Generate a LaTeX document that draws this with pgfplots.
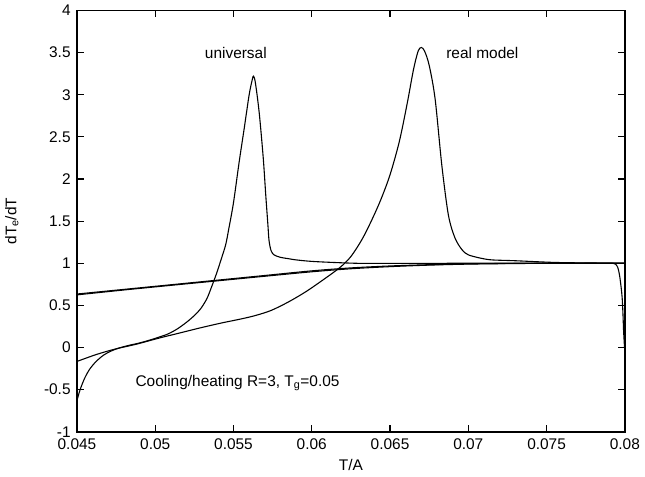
\documentclass[border=0pt]{standalone}
\usepackage{fontspec}
\setmainfont{Liberation Sans}
\usepackage{pgfplots}
\pgfplotsset{compat=1.18}

\begin{document}
\fontsize{15.5}{18}\selectfont
\begin{tikzpicture}
\begin{axis}[
  scale only axis, width=550pt, height=423pt,
  xmin=0.045, xmax=0.08, ymin=-1, ymax=4,
  xtick={0.045,0.05,0.055,0.06,0.065,0.07,0.075,0.08},
  xticklabels={0.045,0.05,0.055,0.06,0.065,0.07,0.075,0.08},
  ytick={-1,-0.5,0,0.5,1,1.5,2,2.5,3,3.5,4},
  yticklabels={-1,-0.5,0,0.5,1,1.5,2,2.5,3,3.5,4},
  scaled x ticks=false,
  tick align=inside, major tick length=7pt,
  tick style={line width=1.2pt, black},
  axis line style={line width=1.5pt},
  tick label style={font=\fontsize{15.5}{18}\selectfont},
  label style={font=\fontsize{15.5}{18}\selectfont},
  xticklabel style={yshift=-2pt},
  yticklabel style={xshift=-1pt},
  xlabel={T/A}, ylabel={dT\textsubscript{e}/dT},
  xlabel style={yshift=1pt},
  ylabel style={yshift=15pt},
  /pgf/number format/assume math mode=true,
  every axis plot/.append style={black, line width=1.1pt, mark=none},
]
% straight line (drops at the end)
\addplot[smooth] coordinates {(0.045,0.635) (0.048,0.69) (0.051,0.745) (0.054,0.80) (0.057,0.855) (0.060,0.91) (0.0625,0.945) (0.065,0.968) (0.0675,0.983) (0.070,0.993) (0.0725,0.998) (0.075,1.0) (0.0792,1.0)};
\addplot[smooth] coordinates {(0.0792,1.0) (0.0794,0.99) (0.07955,0.95) (0.07966,0.86) (0.07976,0.72) (0.07983,0.59) (0.07988,0.4) (0.07992,0.2) (0.07998,0.0)};
% second straight line
\addplot[smooth] coordinates {(0.045,0.625) (0.048,0.683) (0.051,0.738) (0.054,0.792) (0.057,0.846) (0.060,0.899) (0.0625,0.935) (0.065,0.96) (0.0675,0.978) (0.070,0.99) (0.0725,0.996) (0.075,0.999) (0.080,1.0)};
% universal
\addplot[smooth] coordinates {(0.045,-0.63) (0.0452,-0.50) (0.0455,-0.36) (0.0458,-0.26) (0.0462,-0.17) (0.0467,-0.09) (0.0472,-0.04) (0.0477,-0.005) (0.0483,0.025) (0.0489,0.05) (0.0495,0.08) (0.0501,0.115) (0.0508,0.16) (0.0514,0.22) (0.0520,0.30) (0.0525,0.38) (0.0529,0.46) (0.0533,0.58) (0.0536,0.72) (0.0539,0.87) (0.0542,1.04) (0.0545,1.22) (0.0547,1.41) (0.0550,1.72) (0.05536,2.20) (0.0557,2.62) (0.0560,3.00) (0.0562,3.18) (0.05628,3.22) (0.0564,3.14) (0.05664,2.79) (0.0569,2.25) (0.05706,1.81) (0.0572,1.45) (0.05727,1.27) (0.0574,1.15) (0.05759,1.10) (0.0580,1.07) (0.0585,1.055) (0.0590,1.04) (0.0602,1.02) (0.0628,1.0) (0.065,0.998) (0.070,1.0) (0.080,1.0)};
% real model
\addplot[smooth] coordinates {(0.045,-0.165) (0.0462,-0.085) (0.0474,-0.02) (0.0488,0.04) (0.0501,0.105) (0.0515,0.17) (0.0528,0.23) (0.0542,0.29) (0.0555,0.34) (0.0564,0.38) (0.0574,0.44) (0.0585,0.54) (0.0596,0.66) (0.0607,0.80) (0.0618,0.95) (0.0625,1.08) (0.0632,1.28) (0.0638,1.50) (0.0644,1.75) (0.0650,2.05) (0.0656,2.45) (0.0661,2.90) (0.0665,3.30) (0.0668,3.52) (0.0670,3.56) (0.0672,3.52) (0.0675,3.35) (0.06788,2.95) (0.06831,2.16) (0.06873,1.57) (0.06915,1.30) (0.0696,1.16) (0.0700,1.10) (0.0708,1.06) (0.0715,1.04) (0.0730,1.03) (0.0755,1.01) (0.0780,1.003) (0.0800,1.0)};
\node at (axis cs:0.05515,3.5) {universal};
\node at (axis cs:0.0709,3.5) {real model};
\node[anchor=west] at (axis cs:0.0484,-0.42) {Cooling/heating R=3, T\textsubscript{g}=0.05};
\end{axis}
\end{tikzpicture}
\end{document}
